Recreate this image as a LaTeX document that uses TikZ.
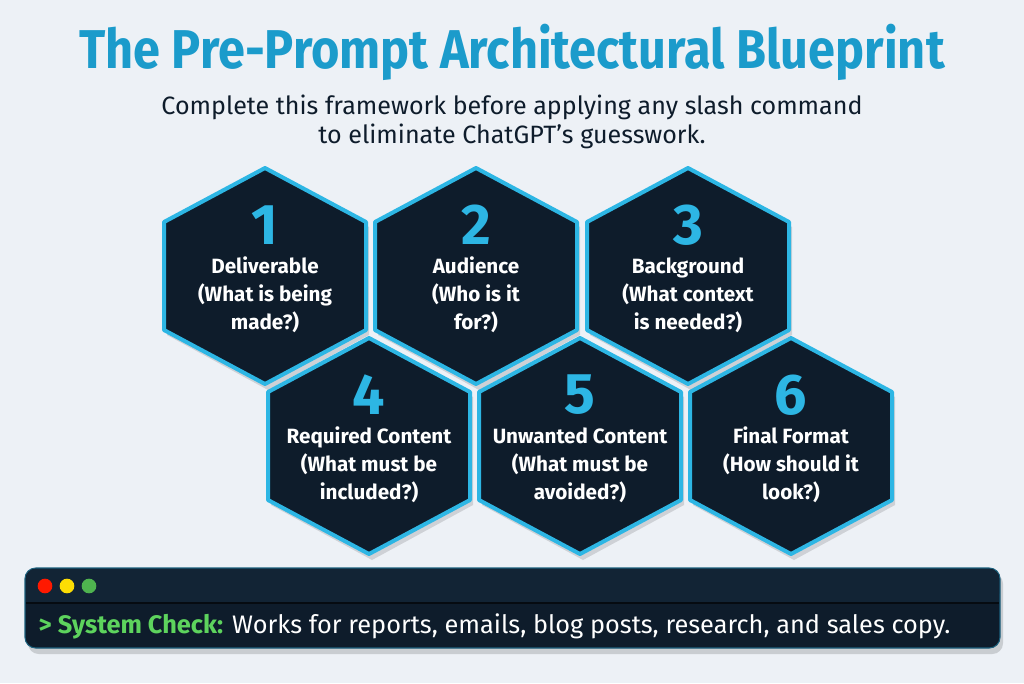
\documentclass[tikz,border=0pt]{standalone}
\usepackage{fontspec}
\setmainfont{Fira Sans}
\usetikzlibrary{calc}
\definecolor{paper}{HTML}{EDF1F6}
\definecolor{navy}{HTML}{0E1C2B}
\definecolor{navybar}{HTML}{122435}
\definecolor{cyanedge}{HTML}{2DB6E4}
\definecolor{titleblue}{HTML}{1B9BCB}
\definecolor{okgreen}{HTML}{5DD35D}
\tikzset{
 hexedge/.style={draw=cyanedge,line width=3pt,fill=navy,line join=round},
 hexshade/.style={fill=black,opacity=.13},
 pics/hexcell/.style={code={
   \fill[hexshade] (3,-103) -- (104,-49) -- (104,59) -- (3,114) -- (-98,59) -- (-98,-49) -- cycle;
   \draw[hexedge] (0,-108) -- (101,-54) -- (101,54) -- (0,108) -- (-101,54) -- (-101,-54) -- cycle;}},
 numtxt/.style={text=cyanedge,font=\fontsize{43}{43}\selectfont\bfseries},
 celltxt/.style={text=white,align=center,font=\fontsize{15.5}{21}\selectfont\bfseries}
}
\begin{document}
\begin{tikzpicture}[x=0.75pt,y=-0.75pt]
 \useasboundingbox[fill=paper] (0,0) rectangle (1024,683);
 % heading
 \node[text=titleblue,xscale=.89,font=\fontsize{41}{41}\selectfont\bfseries] (title) at (512,52) {The Pre-Prompt Architectural Blueprint};
 \node[text=navy,align=center,font=\fontsize{18.8}{22}\selectfont] (sub) at (512,122) {Complete this framework before applying any slash command\\to eliminate ChatGPT’s guesswork.};
 % top row
 \pic at (265,276) {hexcell};
 \pic at (476,276) {hexcell};
 \pic at (688,276) {hexcell};
 % bottom row
 \pic at (369,446) {hexcell};
 \pic at (580,446) {hexcell};
 \pic at (791,446) {hexcell};
 \node[numtxt] (n1) at (265,225) {1};
 \node[numtxt] (n2) at (476,225) {2};
 \node[numtxt] (n3) at (688,225) {3};
 \node[numtxt] (n4) at (369,395) {4};
 \node[numtxt] (n5) at (580,395) {5};
 \node[numtxt] (n6) at (791,395) {6};
 \node[celltxt] (c1) at (265,295) {Deliverable\\(What is being\\made?)};
 \node[celltxt] (c2) at (476,295) {Audience\\(Who is it\\for?)};
 \node[celltxt] (c3) at (688,295) {Background\\(What context\\is needed?)};
 \node[celltxt] (c4) at (369,465) {Required Content\\(What must be\\included?)};
 \node[celltxt] (c5) at (580,465) {Unwanted Content\\(What must be\\avoided?)};
 \node[celltxt] (c6) at (791,465) {Final Format\\(How should it\\look?)};
 % terminal strip
 \fill[black,opacity=.15,rounded corners=8pt] (28,573) rectangle (1003,654);
 \draw[draw=cyanedge!45!navy,fill=navy,line width=.8pt,rounded corners=8pt] (25,568) rectangle (1000,648);
 \fill[navybar,rounded corners=7pt] (26,569) rectangle (999,603);
 \fill[navybar] (26,590) rectangle (999,603);
 \draw[black!60!navy,line width=.8pt] (26,603) -- (999,603);
 \fill[red!80!orange] (45,586) circle (5.5pt);
 \fill[yellow!80!orange] (67,586) circle (5.5pt);
 \fill[okgreen!85!black] (89,586) circle (5.5pt);
 \node[anchor=west,text=white,font=\fontsize{19}{22}\selectfont] (cmd) at (34,626) {\textcolor{okgreen}{\bfseries > System Check:} Works for reports, emails, blog posts, research, and sales copy.};
\end{tikzpicture}
\end{document}
